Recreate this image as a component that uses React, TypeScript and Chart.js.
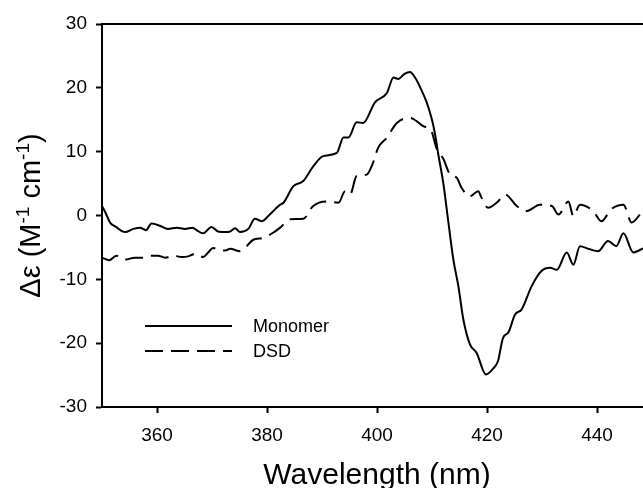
import React, { useEffect, useRef } from "react";
import { Chart, registerables } from "chart.js";

Chart.register(...registerables);

// Wavelength (nm) and Δε values
const monomerNm = [350, 350.6, 351.5, 352.4, 354.2, 355.7, 356.9, 358, 359, 360.5, 362, 363.6, 365.1, 366.5, 367.2, 368.4, 369.9, 371.1, 372.4, 373.3, 374.2, 375.1, 376.6, 377.8, 379, 380.5, 381.5, 382.4, 383, 384.8, 386.6, 388.4, 390.2, 392.7, 393.9, 394.8, 396.3, 397.5, 399.6, 401.8, 403, 403.9, 405, 406, 407, 408, 409, 409.9, 410.5, 411.1, 412.1, 413, 413.9, 414.8, 415.7, 416.9, 418.1, 419.8, 421.1, 422, 422.9, 423.9, 425.1, 426.3, 428.1, 429.9, 431.5, 432.7, 434.5, 435.7, 436.9, 438.4, 440.2, 442, 443.5, 444.8, 446.6, 447.8, 449, 450];
const monomerDe = [1.5, 0.5, -1.15, -1.7, -2.6, -2.1, -1.9, -2.3, -1.25, -1.6, -2.1, -1.9, -2.1, -1.9, -2.3, -2.8, -1.8, -2.5, -2.6, -2.5, -2.0, -2.6, -2.1, -0.5, -0.9, 0.15, 1.0, 1.7, 2.0, 4.6, 5.4, 7.7, 9.3, 9.8, 12.2, 12.2, 14.6, 14.5, 17.7, 19.2, 21.6, 21.4, 22.2, 22.5, 21.5, 19.8, 17.8, 15.3, 13, 9.8, 4.8, -1.2, -7.0, -11.1, -16.3, -20.2, -21.5, -24.9, -24, -22.8, -19.2, -18.3, -15.5, -14.7, -11.1, -8.7, -8.2, -8.5, -5.8, -7.7, -4.8, -5.2, -5.6, -4.0, -4.8, -2.8, -5.8, -5.4, -5.0, -5.0];

const dsdNm = [350, 351.3, 352.6, 354.2, 356, 357.6, 359, 360.2, 361.5, 363, 364.5, 365.7, 366.9, 368.4, 369.3, 370.2, 371.3, 372.4, 373.3, 375.1, 376.3, 377.5, 379.3, 381.1, 382.4, 384.2, 386.6, 388.4, 390.8, 393, 394.2, 395.1, 396.3, 398.1, 399.3, 400.2, 401.8, 403.6, 406, 408.4, 409.9, 410.8, 412.1, 413.3, 414.5, 415.4, 416.9, 418.4, 419, 420.2, 422, 423.3, 425.4, 427.2, 429.6, 431.8, 433, 434.8, 435.7, 436.9, 439.3, 440.8, 442.6, 444.8, 446.3, 447.8, 449, 450];
const dsdDe = [-6.6, -7.0, -6.3, -6.9, -6.6, -6.6, -6.3, -6.3, -6.6, -6.3, -6.5, -6.4, -6.0, -6.5, -5.8, -5.1, -5.4, -5.5, -5.2, -5.6, -4.8, -3.8, -3.5, -2.7, -1.9, -0.6, -0.5, 1.5, 2.2, 2.0, 3.8, 3.3, 6.2, 6.4, 8.3, 10.6, 12.2, 14.5, 15.3, 14.0, 13.2, 10.6, 8.8, 6.4, 5.9, 4.3, 3.0, 3.8, 2.8, 1.2, 2.2, 3.3, 1.5, 0.7, 1.7, 1.5, 0.15, 2.2, -0.1, 1.7, 0.7, -0.9, 1.0, 1.7, -1.1, 0.15, 1.5, 2.0];

const seriesLabels = ["Monomer", "DSD"];
const xTickValues = [360, 380, 400, 420, 440];
const yTickValues = [-30, -20, -10, 0, 10, 20, 30];

const FONT = "'Liberation Sans', Arial, Helvetica, sans-serif";

const framePlugin = {
  id: "framePlugin",
  afterDraw(chart: any) {
    const ctx = chart.ctx;
    const a = chart.chartArea;
    ctx.save();
    // top frame line
    ctx.strokeStyle = "#000";
    ctx.lineWidth = 2;
    ctx.beginPath();
    ctx.moveTo(a.left - 1, a.top);
    ctx.lineTo(a.right + 1, a.top);
    ctx.stroke();

    // legend inside plot
    const ds = chart.data.datasets;
    const lx0 = 145, lx1 = 232, tx = 253;
    const ly = [326, 351];
    ctx.font = `18px ${FONT}`;
    ctx.fillStyle = "#000";
    ctx.textBaseline = "middle";
    ctx.textAlign = "left";
    ds.forEach((d: any, i: number) => {
      ctx.setLineDash(d.borderDash || []);
      ctx.beginPath();
      ctx.moveTo(lx0, ly[i]);
      ctx.lineTo(lx1, ly[i]);
      ctx.stroke();
      ctx.setLineDash([]);
      ctx.fillText(d.label, tx, ly[i] + 1);
    });

    // y-axis title with superscripts
    const parts: [string, boolean][] = [
      ["Δε (M", false],
      ["-1", true],
      [" cm", false],
      ["-1", true],
      [")", false],
    ];
    const big = `29px ${FONT}`;
    const small = `19px ${FONT}`;
    let total = 0;
    parts.forEach(([t, sup]) => {
      ctx.font = sup ? small : big;
      total += ctx.measureText(t).width;
    });
    ctx.translate(40, (a.top + a.bottom) / 2);
    ctx.rotate(-Math.PI / 2);
    ctx.textBaseline = "alphabetic";
    let x = -total / 2;
    parts.forEach(([t, sup]) => {
      ctx.font = sup ? small : big;
      ctx.fillText(t, x, sup ? -11 : 0);
      x += ctx.measureText(t).width;
    });
    ctx.restore();

    // x-axis title
    ctx.save();
    ctx.font = `30px ${FONT}`;
    ctx.fillStyle = "#000";
    ctx.textAlign = "center";
    ctx.textBaseline = "alphabetic";
    ctx.fillText("Wavelength (nm)", (a.left + a.right) / 2, 484);
    ctx.restore();
  },
};

export default function App() {
  const ref = useRef<HTMLCanvasElement | null>(null);

  useEffect(() => {
    if (!ref.current) return;
    const toPts = (xs: number[], ys: number[]) => xs.map((x, i) => ({ x, y: ys[i] }));
    const chart = new Chart(ref.current, {
      type: "line",
      data: {
        datasets: [
          {
            label: seriesLabels[0],
            data: toPts(monomerNm, monomerDe),
            borderColor: "#000",
            borderWidth: 2,
            pointRadius: 0,
            cubicInterpolationMode: "monotone",
            fill: false,
          },
          {
            label: seriesLabels[1],
            data: toPts(dsdNm, dsdDe),
            borderColor: "#000",
            borderWidth: 2,
            borderDash: [18, 8],
            pointRadius: 0,
            cubicInterpolationMode: "monotone",
            fill: false,
          },
        ],
      },
      options: {
        animation: false,
        responsive: false,
        devicePixelRatio: 1,
        layout: { padding: { top: 24, right: 48, left: 0, bottom: 0 } },
        plugins: { legend: { display: false }, tooltip: { enabled: false } },
        scales: {
          x: {
            type: "linear",
            min: 350,
            max: 450,
            afterBuildTicks: (s: any) => {
              s.ticks = xTickValues.map((v) => ({ value: v }));
            },
            afterFit: (s: any) => {
              s.height = 81;
            },
            ticks: { color: "#000", font: { family: FONT, size: 19 }, padding: 11, maxRotation: 0 },
            grid: { drawOnChartArea: false, drawTicks: true, tickLength: 6, tickColor: "#000", tickWidth: 2 },
            border: { display: true, color: "#000", width: 2 },
          },
          y: {
            min: -30,
            max: 30,
            afterBuildTicks: (s: any) => {
              s.ticks = yTickValues.map((v) => ({ value: v }));
            },
            afterFit: (s: any) => {
              s.width = 102;
            },
            ticks: { color: "#000", font: { family: FONT, size: 19 }, padding: 9 },
            grid: { drawOnChartArea: false, drawTicks: true, tickLength: 6, tickColor: "#000", tickWidth: 2 },
            border: { display: true, color: "#000", width: 2 },
          },
        },
      },
      plugins: [framePlugin],
    } as any);
    return () => chart.destroy();
  }, []);

  return (
    <div
      style={{
        position: "fixed",
        left: 0,
        top: 0,
        width: 643,
        height: 488,
        overflow: "hidden",
        background: "#fff",
      }}
    >
      <canvas ref={ref} width={700} height={488} style={{ display: "block" }} />
    </div>
  );
}
